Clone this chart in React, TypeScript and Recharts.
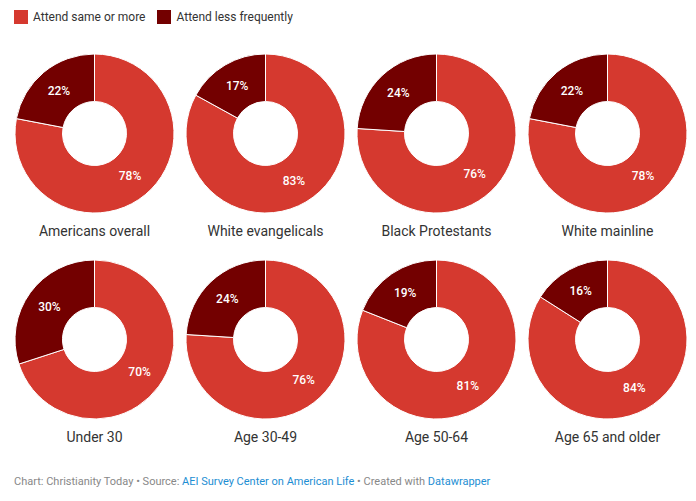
import { PieChart, Pie, Cell } from "recharts";

const groups = [
  "Americans overall",
  "White evangelicals",
  "Black Protestants",
  "White mainline",
  "Under 30",
  "Age 30-49",
  "Age 50-64",
  "Age 65 and older",
];
const sameOrMore = [78, 83, 76, 78, 70, 76, 81, 84];
const lessOften = [22, 17, 24, 22, 30, 24, 19, 16];
const seriesNames = ["Attend same or more", "Attend less frequently"];

const COLORS = ["#d5392f", "#730000"];
const RADIAN = Math.PI / 180;
const colX = [94.5, 265.5, 436.5, 607.5];
const rowY = [133.5, 339.5];
const font = "Roboto, 'Noto Sans', sans-serif";

const renderLabel = (p: any) => {
  const r = (p.innerRadius + p.outerRadius) / 2;
  const x = p.cx + r * Math.cos(-p.midAngle * RADIAN);
  const y = p.cy + r * Math.sin(-p.midAngle * RADIAN);
  return (
    <text x={x} y={y} fill="#fff" fontSize={12} fontWeight={500} fontFamily={font} textAnchor="middle" dominantBaseline="central">
      {`${p.value}%`}
    </text>
  );
};

const App = () => (
  <div style={{ position: "absolute", left: 0, top: 0, width: 696, height: 501, background: "#fff", fontFamily: font }}>
    <div style={{ position: "absolute", left: 14, top: 10, display: "flex", alignItems: "center", fontSize: 12, color: "#333" }}>
      {seriesNames.map((n, i) => (
        <div key={n} style={{ display: "flex", alignItems: "center", marginRight: 12 }}>
          <span style={{ width: 14, height: 14, background: COLORS[i], display: "inline-block", marginRight: 5 }} />
          <span>{n}</span>
        </div>
      ))}
    </div>
    <PieChart width={696} height={501} margin={{ top: 0, right: 0, bottom: 0, left: 0 }} style={{ position: "absolute", left: 0, top: 0 }}>
      {groups.map((g, i) => {
        const data = [
          { name: seriesNames[0], value: sameOrMore[i] },
          { name: seriesNames[1], value: lessOften[i] },
        ];
        return (
          <Pie
            key={g}
            data={data}
            dataKey="value"
            cx={colX[i % 4]}
            cy={rowY[Math.floor(i / 4)]}
            innerRadius={32}
            outerRadius={79.5}
            startAngle={90}
            endAngle={-270}
            stroke="#fff"
            strokeWidth={1}
            label={renderLabel}
            labelLine={false}
            isAnimationActive={false}
          >
            {data.map((_, j) => (
              <Cell key={j} fill={COLORS[j]} />
            ))}
          </Pie>
        );
      })}
    </PieChart>
    {groups.map((g, i) => (
      <div
        key={g}
        style={{
          position: "absolute",
          left: colX[i % 4] - 85,
          width: 170,
          top: rowY[Math.floor(i / 4)] + 89,
          textAlign: "center",
          fontSize: 14,
          color: "#333",
        }}
      >
        {g}
      </div>
    ))}
    <div style={{ position: "absolute", left: 14, top: 475, fontSize: 11, color: "#888" }}>
      Chart: Christianity Today • Source: <span style={{ color: "#1d8ed3" }}>AEI Survey Center on American Life</span> • Created with{" "}
      <span style={{ color: "#1d8ed3" }}>Datawrapper</span>
    </div>
  </div>
);

export default App;
